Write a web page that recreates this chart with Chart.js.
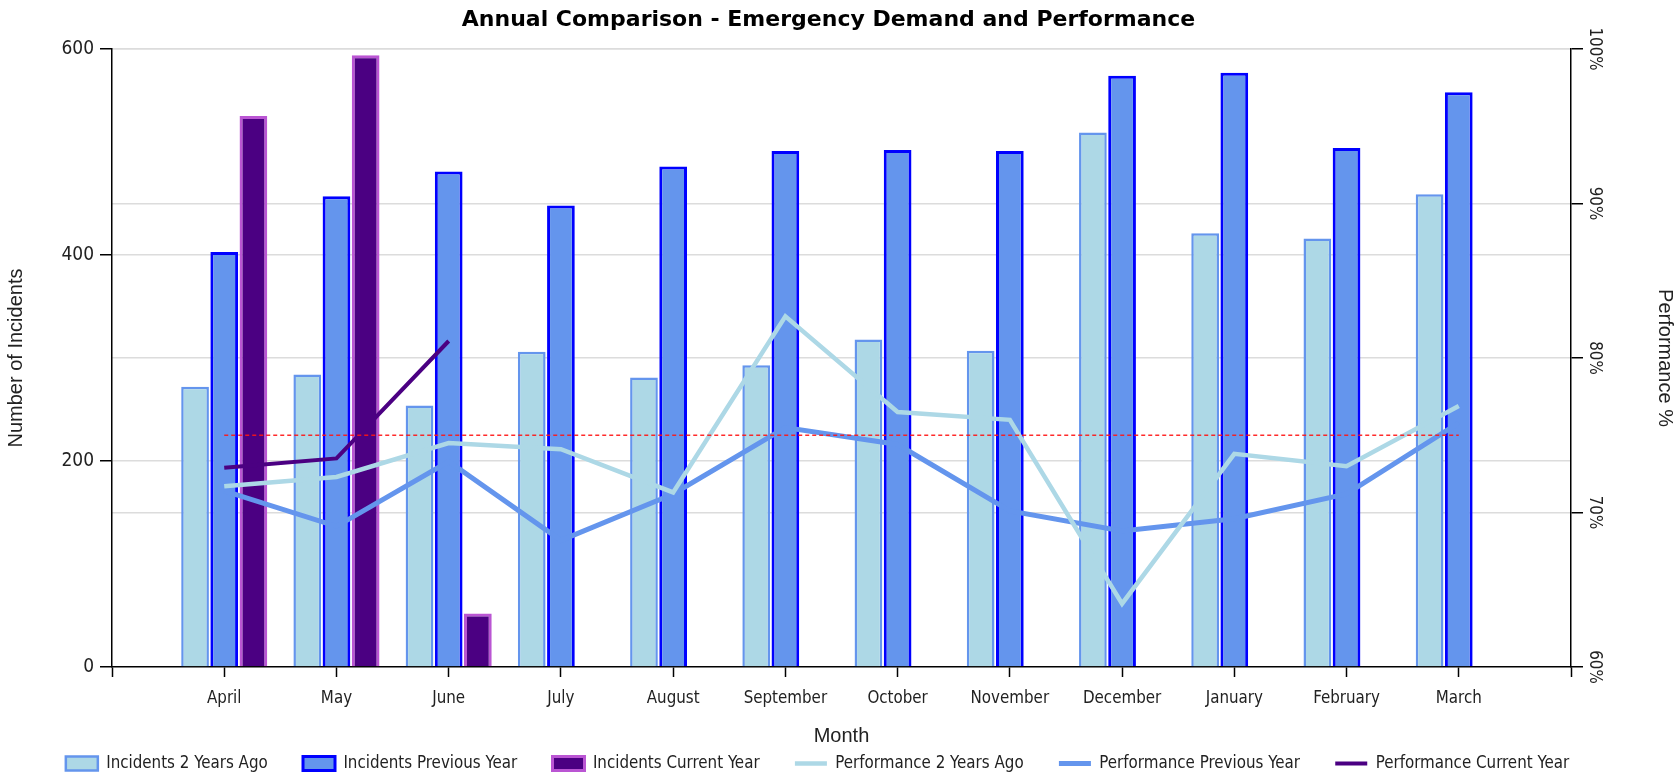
<!DOCTYPE html>
<html lang="en">
<head>
  <meta charset="UTF-8">
  <title>Annual Comparison - Emergency Demand and Performance</title>
  <style>
    html, body { margin: 0; padding: 0; background: #fff; }
    #wrap { position: relative; width: 1679px; height: 776px; }
  </style>
</head>
<body>
  <div id="wrap"><canvas id="chart"></canvas></div>

  <script src="https://cdn.jsdelivr.net/npm/chart.js"></script>
  <script>
    // Months of the financial year
    const months = ["April", "May", "June", "July", "August", "September",
                    "October", "November", "December", "January", "February", "March"];

    // Incident counts (left axis)
    const incidents2YearsAgo = [272, 284, 254, 306, 281, 293, 318, 307, 519, 421, 416, 459];
    const incidentsPrevYear  = [403, 457, 481, 448, 486, 501, 502, 501, 574, 577, 504, 558];
    const incidentsCurYear   = [535, 594, 52, null, null, null, null, null, null, null, null, null];

    // Performance % (right axis)
    const perf2YearsAgo = [71.7, 72.3, 74.5, 74.1, 71.3, 82.7, 76.5, 76.0, 64.1, 73.8, 73.0, 76.9];
    const perfPrevYear  = [71.4, 69.1, 73.3, 68.2, 71.2, 75.5, 74.4, 70.1, 68.8, 69.6, 71.2, 75.8];
    const perfCurYear   = [72.9, 73.5, 81.1, null, null, null, null, null, null, null, null, null];
    const perfTarget    = [75, 75, 75, 75, 75, 75, 75, 75, 75, 75, 75, 75];

    // Tick values
    const incidentTicks = [0, 200, 400, 600];
    const perfTicks = [60, 70, 80, 90, 100];

    // the x axis has an empty slot at each end
    const pad = arr => [null, ...arr, null];
    const labels = ["", ...months, ""];

    Chart.defaults.font.family = "'DejaVu Sans Condensed', 'DejaVu Sans', sans-serif";
    Chart.defaults.font.size = 16.8;
    Chart.defaults.color = "#222";

    const titleFont = { family: "'Liberation Sans', Arial, sans-serif", size: 20 };
    const gridColor = "#dcdcdc";

    // nudge title and legend to where the original puts them
    const shiftPlugin = {
      id: "shift",
      afterLayout(chart) {
        chart.titleBlock.left -= 11;
        chart.titleBlock.right -= 11;
        chart.legend.left -= 22;
        chart.legend.right -= 22;
      }
    };

    new Chart(document.getElementById("chart"), {
      type: "bar",
      data: {
        labels: labels,
        datasets: [
          {
            label: "Incidents 2 Years Ago",
            data: pad(incidents2YearsAgo),
            backgroundColor: "#ADD8E6",
            borderColor: "#6495ED",
            borderWidth: 2.5,
            yAxisID: "y",
            order: 3
          },
          {
            label: "Incidents Previous Year",
            data: pad(incidentsPrevYear),
            backgroundColor: "#6495ED",
            borderColor: "#0000FF",
            borderWidth: 3,
            yAxisID: "y",
            order: 3
          },
          {
            label: "Incidents Current Year",
            data: pad(incidentsCurYear),
            backgroundColor: "#4B0082",
            borderColor: "#BA55D3",
            borderWidth: 3,
            yAxisID: "y",
            order: 3
          },
          {
            type: "line",
            label: "Performance 2 Years Ago",
            data: pad(perf2YearsAgo),
            borderColor: "#ADD8E6",
            backgroundColor: "#ADD8E6",
            borderWidth: 4.5,
            pointRadius: 0,
            tension: 0,
            yAxisID: "y1",
            order: 1
          },
          {
            type: "line",
            label: "Performance Previous Year",
            data: pad(perfPrevYear),
            borderColor: "#6495ED",
            backgroundColor: "#6495ED",
            borderWidth: 5,
            pointRadius: 0,
            tension: 0,
            yAxisID: "y1",
            order: 1
          },
          {
            type: "line",
            label: "Performance Current Year",
            data: pad(perfCurYear),
            borderColor: "#4B0082",
            backgroundColor: "#4B0082",
            borderWidth: 4,
            pointRadius: 0,
            tension: 0,
            yAxisID: "y1",
            order: 1
          },
          {
            type: "line",
            label: "Target",
            data: pad(perfTarget),
            borderColor: "rgba(255, 20, 20, 0.9)",
            borderWidth: 1.5,
            borderDash: [4, 3],
            pointRadius: 0,
            yAxisID: "y1",
            order: 0
          }
        ]
      },
      options: {
        responsive: true,
        maintainAspectRatio: false,
        animation: false,
        devicePixelRatio: 1,
        categoryPercentage: 0.78,
        barPercentage: 0.95,
        layout: { padding: { left: 0, right: 0, top: 0, bottom: -6 } },
        plugins: {
          title: {
            display: true,
            text: "Annual Comparison - Emergency Demand and Performance",
            color: "#000",
            font: { family: "'DejaVu Sans', sans-serif", size: 22, weight: "bold" },
            padding: { top: 7, bottom: 15.6 }
          },
          legend: {
            position: "bottom",
            labels: {
              padding: 35.3,
              usePointStyle: true,
              pointStyleWidth: 32,
              boxHeight: 14,
              generateLabels(chart) {
                const items = Chart.defaults.plugins.legend.labels.generateLabels(chart);
                return items
                  .filter(it => it.datasetIndex < 6)
                  .sort((a, b) => a.datasetIndex - b.datasetIndex)
                  .map(it => {
                    const ds = chart.data.datasets[it.datasetIndex];
                    it.pointStyle = ds.type === "line" ? "line" : "rect";
                    return it;
                  });
              }
            }
          },
          tooltip: { enabled: false }
        },
        scales: {
          x: {
            offset: false,
            grid: { offset: false, drawOnChartArea: false, tickLength: 10, tickColor: "#000", tickWidth: 1.5 },
            border: { color: "#000", width: 1.5 },
            ticks: { autoSkip: false, maxRotation: 0, padding: 12 },
            title: {
              display: true,
              text: "Month",
              font: titleFont,
              color: "#222",
              padding: { top: 0, bottom: -29 }
            },
            afterFit(scale) { scale.height = 52.9; }
          },
          y: {
            position: "left",
            min: incidentTicks[0],
            max: incidentTicks[incidentTicks.length - 1],
            afterBuildTicks(scale) { scale.ticks = incidentTicks.map(v => ({ value: v })); },
            grid: {
              color: c => (c.tick && c.tick.value === 0 ? "rgba(0,0,0,0)" : gridColor),
              lineWidth: 1.5,
              tickLength: 12,
              tickColor: "#000",
              tickWidth: 1.5
            },
            border: { color: "#000", width: 1.5 },
            ticks: { padding: 6, font: { size: 19 } },
            title: {
              display: true,
              text: "Number of Incidents",
              font: titleFont,
              color: "#222",
              padding: { top: 4, bottom: 0 }
            },
            afterFit(scale) { scale.width = 112; }
          },
          y1: {
            position: "right",
            min: perfTicks[0],
            max: perfTicks[perfTicks.length - 1],
            afterBuildTicks(scale) { scale.ticks = perfTicks.map(v => ({ value: v })); },
            grid: {
              color: c => (c.tick && c.tick.value === 60 ? "rgba(0,0,0,0)" : gridColor),
              lineWidth: 1.5,
              tickLength: 12,
              tickColor: "#000",
              tickWidth: 1.5
            },
            border: { color: "#000", width: 1.5 },
            ticks: {
              minRotation: -90,
              maxRotation: -90,
              crossAlign: "center",
              padding: -10,
              callback: v => v + "%"
            },
            title: {
              display: true,
              text: "Performance %",
              font: titleFont,
              color: "#222",
              padding: { top: 2, bottom: 0 }
            },
            afterFit(scale) { scale.width = 108; }
          }
        }
      },
      plugins: [shiftPlugin]
    });
  </script>
</body>
</html>
